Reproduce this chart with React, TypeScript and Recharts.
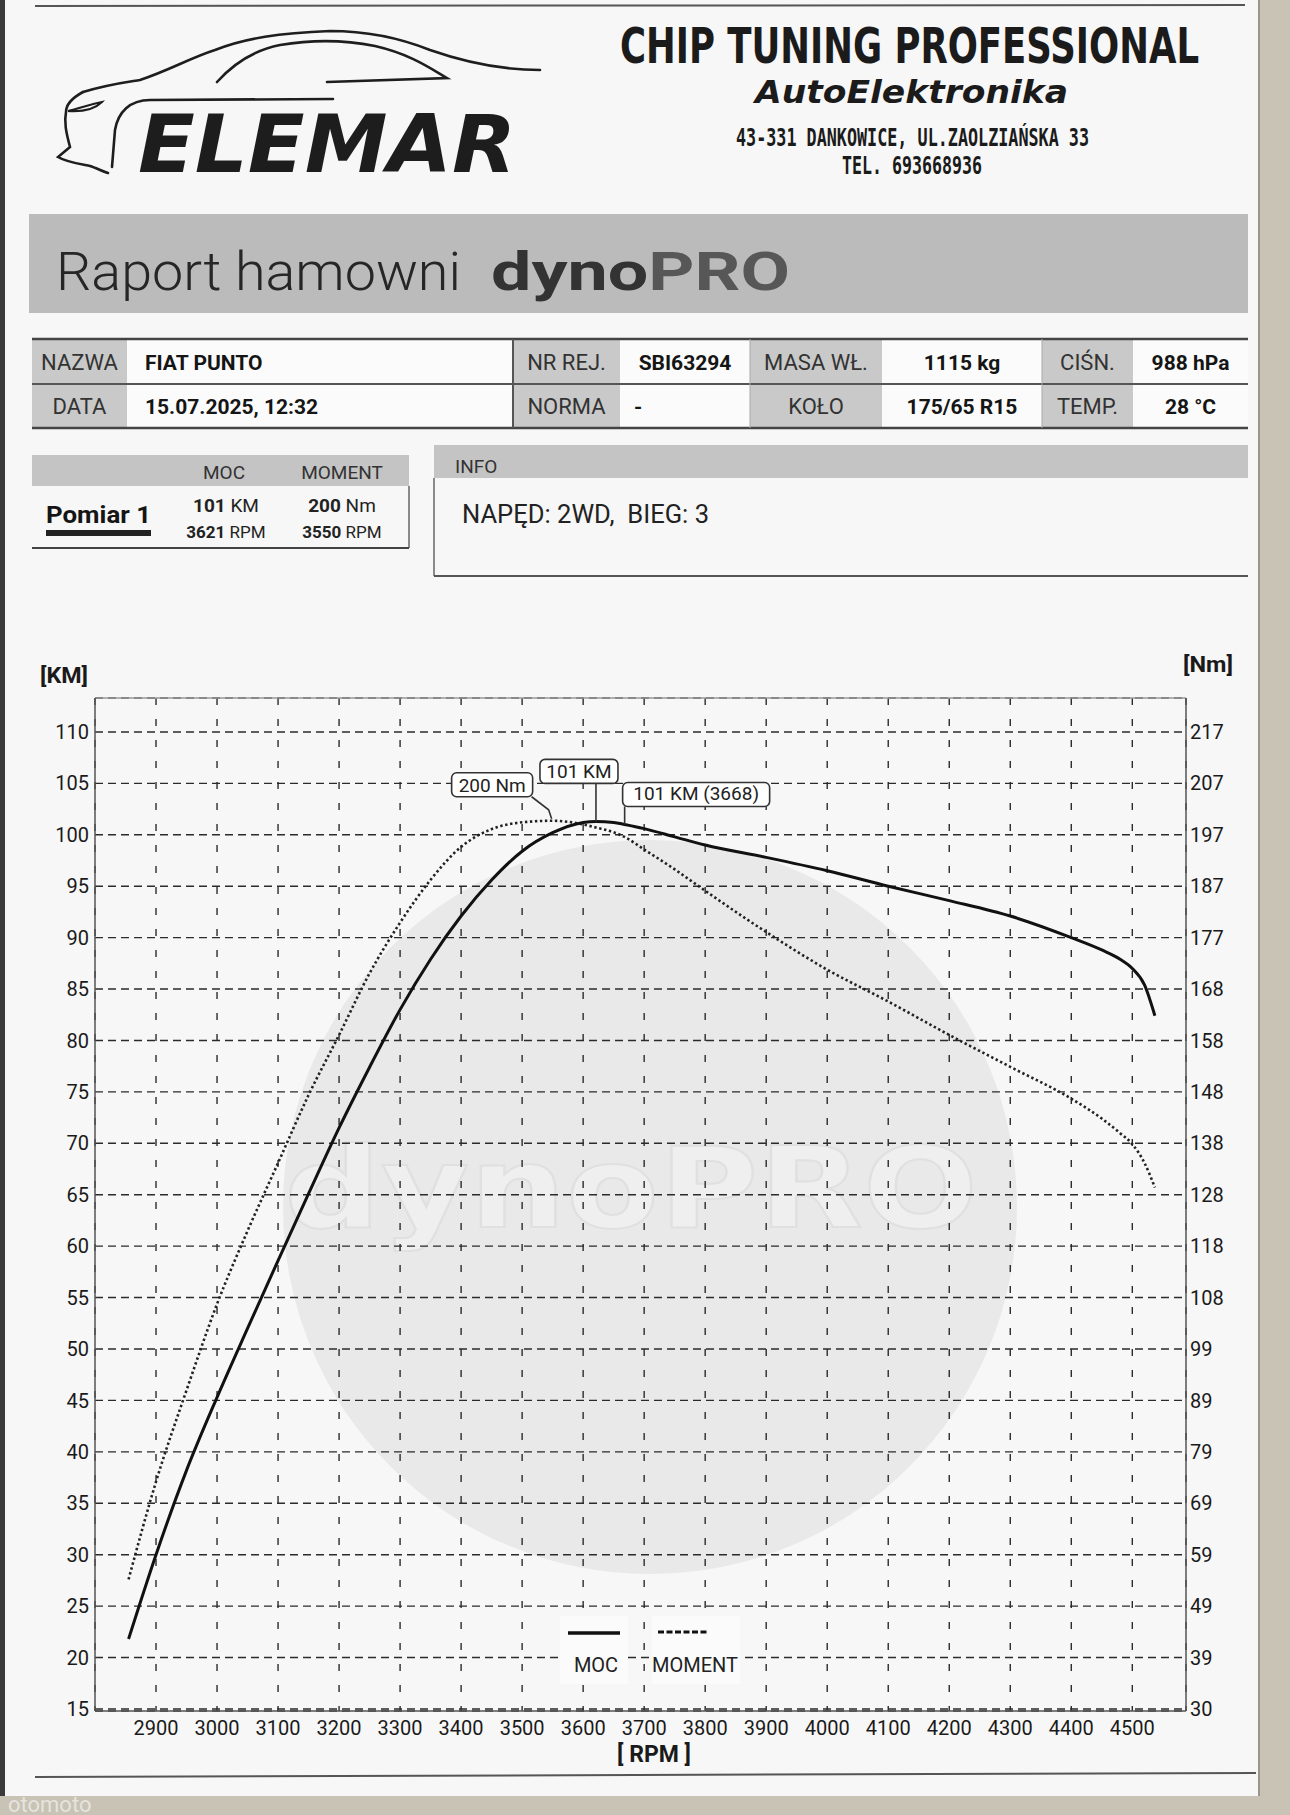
import React from 'react';
import {
  LineChart,
  Line,
  XAxis,
  YAxis,
  CartesianGrid,
  ReferenceDot,
  ReferenceLine
} from 'recharts';

// values read from the dyno sheet
const rpm = [2855, 2900, 2950, 3000, 3050, 3100, 3150, 3200, 3250, 3300, 3350, 3400, 3450, 3500, 3550, 3600, 3621, 3650, 3668, 3700, 3750, 3800, 3900, 4000, 4100, 4200, 4300, 4400, 4450, 4480, 4500, 4520, 4537];
const mocKm = [21.8, 30, 38.2, 45.3, 52.0, 58.6, 65.1, 71.5, 77.4, 83.0, 87.9, 92.1, 95.6, 98.4, 100.2, 101.2, 101.3, 101.2, 101.0, 100.6, 99.8, 99.0, 97.8, 96.5, 95.0, 93.6, 92.1, 90.0, 88.8, 87.9, 87.0, 85.4, 82.4];
const momentNm = [54.8, 73.5, 91.0, 107.5, 121.5, 134.5, 147.5, 159.0, 170.8, 180.5, 188.7, 195.0, 198.4, 199.7, 200.0, 199.3, 198.7, 197.8, 196.9, 194.5, 190.7, 186.6, 178.7, 171.5, 165.4, 159.0, 152.9, 146.8, 143.0, 140.2, 138.1, 134.5, 129.8];

const rpmTicks = [2900, 3000, 3100, 3200, 3300, 3400, 3500, 3600, 3700, 3800, 3900, 4000, 4100, 4200, 4300, 4400, 4500];
const kmTicks = [15, 20, 25, 30, 35, 40, 45, 50, 55, 60, 65, 70, 75, 80, 85, 90, 95, 100, 105, 110];
const nmTickLabels = [30, 39, 49, 59, 69, 79, 89, 99, 108, 118, 128, 138, 148, 158, 168, 177, 187, 197, 207, 217];
const seriesNames = ['MOC', 'MOMENT'];

const peakMoment = { rpm: 3550, nm: 200, label: '200 Nm' };
const peakMoc = { rpm: 3621, km: 101.3, label: '101 KM' };
const markMoc = { rpm: 3668, km: 101.0, label: '101 KM (3668)' };

const infoRow1 = [
  { label: 'NAZWA', value: 'FIAT PUNTO' },
  { label: 'NR REJ.', value: 'SBI63294' },
  { label: 'MASA WŁ.', value: '1115 kg' },
  { label: 'CIŚN.', value: '988 hPa' }
];
const infoRow2 = [
  { label: 'DATA', value: '15.07.2025, 12:32' },
  { label: 'NORMA', value: '-' },
  { label: 'KOŁO', value: '175/65 R15' },
  { label: 'TEMP.', value: '28 °C' }
];

const KM_MIN = 14.8;
const KM_MAX = 113.3;
const nmAt = (km: number) => 30 + ((km - 15) * (217 - 30)) / (110 - 15);
const nmTicks = kmTicks.map(nmAt);

const data = rpm.map((r, i) => ({ rpm: r, moc: mocKm[i], moment: momentNm[i] }));

const font = 'Roboto, "Noto Sans", sans-serif';
const boxText = { fontFamily: font, fontSize: 19, fill: '#222' };

const MomentTag = (props: any) => {
  const { cx, cy } = props;
  return (
    <g>
      <path d={`M${cx - 21},${cy - 24} L${cx - 4},${cy - 11} L${cx - 1},${cy - 2}`} stroke="#333" strokeWidth={1.6} fill="none" />
      <rect x={cx - 101} y={cy - 48} width={81} height={24} rx={5} fill="#fff" stroke="#333" strokeWidth={1.6} />
      <text x={cx - 60.5} y={cy - 29} textAnchor="middle" {...boxText}>{peakMoment.label}</text>
    </g>
  );
};

const MocTag = (props: any) => {
  const { cx, cy } = props;
  return (
    <g>
      <line x1={cx} y1={cy - 38} x2={cx} y2={cy} stroke="#333" strokeWidth={1.6} />
      <rect x={cx - 56} y={cy - 62} width={78} height={24} rx={5} fill="#fff" stroke="#333" strokeWidth={1.6} />
      <text x={cx - 17} y={cy - 43} textAnchor="middle" {...boxText}>{peakMoc.label}</text>
    </g>
  );
};

const MarkTag = (props: any) => {
  const { cx, cy } = props;
  return (
    <g>
      <line x1={cx} y1={cy - 18} x2={cx} y2={cy} stroke="#333" strokeWidth={1.6} />
      <rect x={cx - 2} y={cy - 42} width={147} height={24} rx={5} fill="#fff" stroke="#333" strokeWidth={1.6} />
      <text x={cx + 71.5} y={cy - 24} textAnchor="middle" {...boxText}>{markMoc.label}</text>
    </g>
  );
};

const cols = [32, 127, 513, 620, 750, 882, 1042, 1133, 1248];

const Header = () => (
  <g>
    {/* top paper line */}
    <line x1={35} y1={6} x2={1245} y2={5} stroke="#555" strokeWidth={2} />

    {/* car logo */}
    <g fill="none" stroke="#1e1e1e" strokeWidth={2.6} strokeLinecap="round">
      <path d="M83,92 C110,84 128,82 140,80 C170,70 190,58 215,50 C245,38 280,33 330,31 C370,31 400,38 430,50 C470,64 505,70 540,70" />
      <path d="M217,82 C235,62 255,50 280,45 C310,40 345,40 375,46 C410,54 430,68 447,78 L327,82" />
      <path d="M333,99 L150,100 C130,100 118,112 115,130 L112,167" />
      <path d="M83,92 C72,98 66,104 66,112 C64,122 66,132 70,147 L58,157 C66,162 80,164 90,166 C96,168 102,171 108,173" />
      <path d="M68,111 C80,108 92,104 102,102 C96,108 84,112 68,111 Z" strokeWidth={2} />
    </g>
    <text x={138} y={172} textLength={378} lengthAdjust="spacingAndGlyphs" fontFamily='"DejaVu Sans", sans-serif' fontWeight={700} fontStyle="italic" fontSize={80} fill="#1d1d1d">ELEMAR</text>

    <text x={620} y={63} textLength={579} lengthAdjust="spacingAndGlyphs" fontFamily='"DejaVu Sans", sans-serif' fontWeight={700} fontSize={50} fill="#1b1b1b">CHIP TUNING PROFESSIONAL</text>
    <text x={755} y={103} textLength={313} lengthAdjust="spacingAndGlyphs" fontFamily='"DejaVu Sans", sans-serif' fontWeight={700} fontStyle="italic" fontSize={32} fill="#1b1b1b">AutoElektronika</text>
    <text x={736} y={146} textLength={353} lengthAdjust="spacingAndGlyphs" fontFamily='"DejaVu Sans Mono", "DejaVu Sans", monospace' fontWeight={700} fontSize={25} fill="#1b1b1b">43-331 DANKOWICE, UL.ZAOLZIAŃSKA 33</text>
    <text x={842} y={174} textLength={140} lengthAdjust="spacingAndGlyphs" fontFamily='"DejaVu Sans Mono", "DejaVu Sans", monospace' fontWeight={700} fontSize={25} fill="#1b1b1b">TEL. 693668936</text>

    {/* title band */}
    <rect x={29} y={214} width={1219} height={99} fill="#bbbbbb" />
    <text x={56} y={290} textLength={405} lengthAdjust="spacingAndGlyphs" fontFamily={font} fontWeight={300} fontSize={54} fill="#262626">Raport hamowni</text>
    <text x={491} y={290} textLength={299} lengthAdjust="spacingAndGlyphs" fontFamily={font} fontWeight={700} fontSize={54}>
      <tspan fill="#333">dyno</tspan>
      <tspan fill="#575757">PRO</tspan>
    </text>

    {/* vehicle table */}
    {[0, 1].map((row) =>
      [0, 1, 2, 3].map((c) => (
        <g key={`${row}-${c}`}>
          <rect x={cols[c * 2]} y={339 + row * 45} width={cols[c * 2 + 1] - cols[c * 2]} height={45} fill="#c9c9c9" />
          <rect x={cols[c * 2 + 1]} y={339 + row * 45} width={cols[c * 2 + 2] - cols[c * 2 + 1]} height={45} fill="#fbfbfb" />
        </g>
      ))
    )}
    <line x1={32} y1={339} x2={1248} y2={339} stroke="#444" strokeWidth={2.5} />
    <line x1={32} y1={384} x2={1248} y2={384} stroke="#555" strokeWidth={2} />
    <line x1={32} y1={428} x2={1248} y2={428} stroke="#444" strokeWidth={2.5} />
    <line x1={513} y1={339} x2={513} y2={428} stroke="#555" strokeWidth={2} />
    <line x1={750} y1={339} x2={750} y2={428} stroke="#aaa" strokeWidth={1} />
    <line x1={1042} y1={339} x2={1042} y2={428} stroke="#aaa" strokeWidth={1} />
    {[infoRow1, infoRow2].map((rowData, row) =>
      rowData.map((cell, c) => {
        const y = 370 + row * 44;
        const lx = (cols[c * 2] + cols[c * 2 + 1]) / 2;
        const left = c === 0 || (c === 1 && row === 1);
        const vx = left ? cols[c * 2 + 1] + (c === 0 ? 18 : 14) : (cols[c * 2 + 1] + cols[c * 2 + 2]) / 2;
        return (
          <g key={`t${row}-${c}`}>
            <text x={lx} y={y} textAnchor="middle" fontFamily={font} fontSize={22} fill="#333">{cell.label}</text>
            <text x={vx} y={y} textAnchor={left ? 'start' : 'middle'} fontFamily={font} fontWeight={700} fontSize={21} fill="#151515">{cell.value}</text>
          </g>
        );
      })
    )}

    {/* measurement summary */}
    <rect x={32} y={455} width={377} height={31} fill="#c4c4c4" />
    <line x1={409} y1={486} x2={409} y2={548} stroke="#666" strokeWidth={1.5} />
    <line x1={32} y1={548} x2={409} y2={548} stroke="#444" strokeWidth={2} />
    <text x={224} y={479} textAnchor="middle" fontFamily={font} fontSize={19} fill="#333">MOC</text>
    <text x={342} y={479} textAnchor="middle" fontFamily={font} fontSize={19} fill="#333">MOMENT</text>
    <text x={46} y={523} textLength={105} lengthAdjust="spacingAndGlyphs" fontFamily={font} fontWeight={700} fontSize={24} fill="#151515">Pomiar 1</text>
    <rect x={46} y={530} width={105} height={6} fill="#222" />
    <text x={226} y={512} textAnchor="middle" fontFamily={font} fontSize={19} fill="#222"><tspan fontWeight={700}>101</tspan> KM</text>
    <text x={226} y={538} textAnchor="middle" fontFamily={font} fontSize={17} fill="#222"><tspan fontWeight={700}>3621</tspan> RPM</text>
    <text x={342} y={512} textAnchor="middle" fontFamily={font} fontSize={19} fill="#222"><tspan fontWeight={700}>200</tspan> Nm</text>
    <text x={342} y={538} textAnchor="middle" fontFamily={font} fontSize={17} fill="#222"><tspan fontWeight={700}>3550</tspan> RPM</text>

    {/* info box */}
    <rect x={434} y={445} width={814} height={33} fill="#c4c4c4" />
    <text x={455} y={473} fontFamily={font} fontSize={19} fill="#333">INFO</text>
    <line x1={434} y1={478} x2={434} y2={576} stroke="#666" strokeWidth={1.5} />
    <line x1={434} y1={576} x2={1248} y2={576} stroke="#555" strokeWidth={2} />
    <text x={462} y={523} textLength={247} lengthAdjust="spacingAndGlyphs" fontFamily={font} fontSize={25} fill="#222" style={{ whiteSpace: 'pre' }}>NAPĘD: 2WD,  BIEG: 3</text>
  </g>
);

const Background = () => (
  <svg width={1290} height={1815} style={{ position: 'absolute', left: 0, top: 0 }}>
    <rect x={0} y={0} width={1290} height={1815} fill="#f7f7f7" />
    {/* watermark */}
    <circle cx={650} cy={1207} r={367} fill="#e9e9e9" />
    <text x={284} y={1227} textLength={694} lengthAdjust="spacingAndGlyphs" fontFamily='"DejaVu Sans", sans-serif' fontWeight={700} fontSize={112} fill="#efefef" stroke="#e0e0e0" strokeWidth={2}>dynoPRO</text>
    <Header />
    {/* axis titles */}
    <text x={40} y={683} textLength={48} lengthAdjust="spacingAndGlyphs" fontFamily={font} fontWeight={700} fontSize={22} fill="#1a1a1a">[KM]</text>
    <text x={1183} y={672} textLength={50} lengthAdjust="spacingAndGlyphs" fontFamily={font} fontWeight={700} fontSize={22} fill="#1a1a1a">[Nm]</text>
    <text x={654} y={1762} textAnchor="middle" fontFamily={font} fontWeight={700} fontSize={23} fill="#1a1a1a" style={{ whiteSpace: 'pre' }}>[ RPM ]</text>
    <line x1={35} y1={1777} x2={1256} y2={1773} stroke="#555" strokeWidth={2} />
    {/* paper edges */}
    <rect x={0} y={0} width={5} height={1815} fill="#3a3a3a" />
    <rect x={1260} y={0} width={30} height={1815} fill="#c9c3b5" />
    <line x1={1259} y1={0} x2={1259} y2={1815} stroke="#9a958a" strokeWidth={2} />
    <rect x={0} y={1796} width={1290} height={19} fill="#c9c3b5" />
    <text x={8} y={1812} fontFamily={font} fontSize={22} fill="#ffffff" opacity={0.55}>otomoto</text>
  </svg>
);

const LegendOverlay = () => (
  <svg width={1290} height={1815} style={{ position: 'absolute', left: 0, top: 0, pointerEvents: 'none' }}>
    <rect x={560} y={1616} width={68} height={68} fill="#fbfbfb" />
    <rect x={652} y={1616} width={88} height={68} fill="#fbfbfb" />
    <line x1={568} y1={1633} x2={620} y2={1633} stroke="#111" strokeWidth={3.5} />
    <line x1={658} y1={1632} x2={707} y2={1632} stroke="#111" strokeWidth={3} strokeDasharray="6 2.5" />
    <text x={596} y={1672} textAnchor="middle" fontFamily={font} fontSize={20} fill="#222">{seriesNames[0]}</text>
    <text x={695} y={1672} textAnchor="middle" fontFamily={font} fontSize={20} fill="#222">{seriesNames[1]}</text>
  </svg>
);

const tickStyle = { fontSize: 20, fill: '#1a1a1a', fontFamily: font };

export default function App() {
  return (
    <div style={{ position: 'absolute', left: 0, top: 0, width: 1290, height: 1815, overflow: 'hidden', fontFamily: font }}>
      <Background />
      <div style={{ position: 'absolute', left: 0, top: 640 }}>
        <LineChart width={1290} height={1140} data={data} margin={{ top: 58, right: 34, left: 15, bottom: 29 }}>
          <CartesianGrid horizontal={false} stroke="#2b2b2b" strokeWidth={1.4} strokeDasharray="7 14" />
          <CartesianGrid vertical={false} stroke="#2b2b2b" strokeWidth={1.4} strokeDasharray="8 5" />
          <XAxis
            dataKey="rpm"
            type="number"
            domain={[2800, 4588]}
            ticks={rpmTicks}
            allowDataOverflow
            height={40}
            tickSize={0}
            tickMargin={10}
            tick={tickStyle}
            axisLine={{ stroke: '#555', strokeWidth: 1.5 }}
            tickLine={false}
          />
          <YAxis
            type="number"
            domain={[KM_MIN, KM_MAX]}
            ticks={kmTicks}
            allowDataOverflow
            width={80}
            tickSize={0}
            tickMargin={6}
            tick={tickStyle}
            axisLine={{ stroke: '#555', strokeWidth: 1.5 }}
            tickLine={false}
          />
          <YAxis
            yAxisId="nm"
            orientation="right"
            type="number"
            domain={[nmAt(KM_MIN), nmAt(KM_MAX)]}
            ticks={nmTicks}
            allowDataOverflow
            width={70}
            tickSize={0}
            tickMargin={4}
            tick={{ ...tickStyle, textAnchor: 'start' }}
            tickFormatter={(v: number, i: number) => String(nmTickLabels[i])}
            axisLine={{ stroke: '#555', strokeWidth: 1.5 }}
            tickLine={false}
          />
          <ReferenceLine y={KM_MAX} stroke="#999" strokeWidth={1.5} ifOverflow="visible" />
          <Line
            yAxisId="nm"
            dataKey="moment"
            name={seriesNames[1]}
            type="monotone"
            stroke="#222"
            strokeWidth={2.6}
            strokeDasharray="2.4 2.6"
            dot={false}
            isAnimationActive={false}
          />
          <Line
            dataKey="moc"
            name={seriesNames[0]}
            type="monotone"
            stroke="#111"
            strokeWidth={3}
            dot={false}
            isAnimationActive={false}
          />
          <ReferenceDot yAxisId="nm" x={peakMoment.rpm} y={peakMoment.nm} r={0} shape={MomentTag} ifOverflow="visible" />
          <ReferenceDot x={peakMoc.rpm} y={peakMoc.km} r={0} shape={MocTag} ifOverflow="visible" />
          <ReferenceDot x={markMoc.rpm} y={markMoc.km} r={0} shape={MarkTag} ifOverflow="visible" />
        </LineChart>
      </div>
      <LegendOverlay />
    </div>
  );
}
